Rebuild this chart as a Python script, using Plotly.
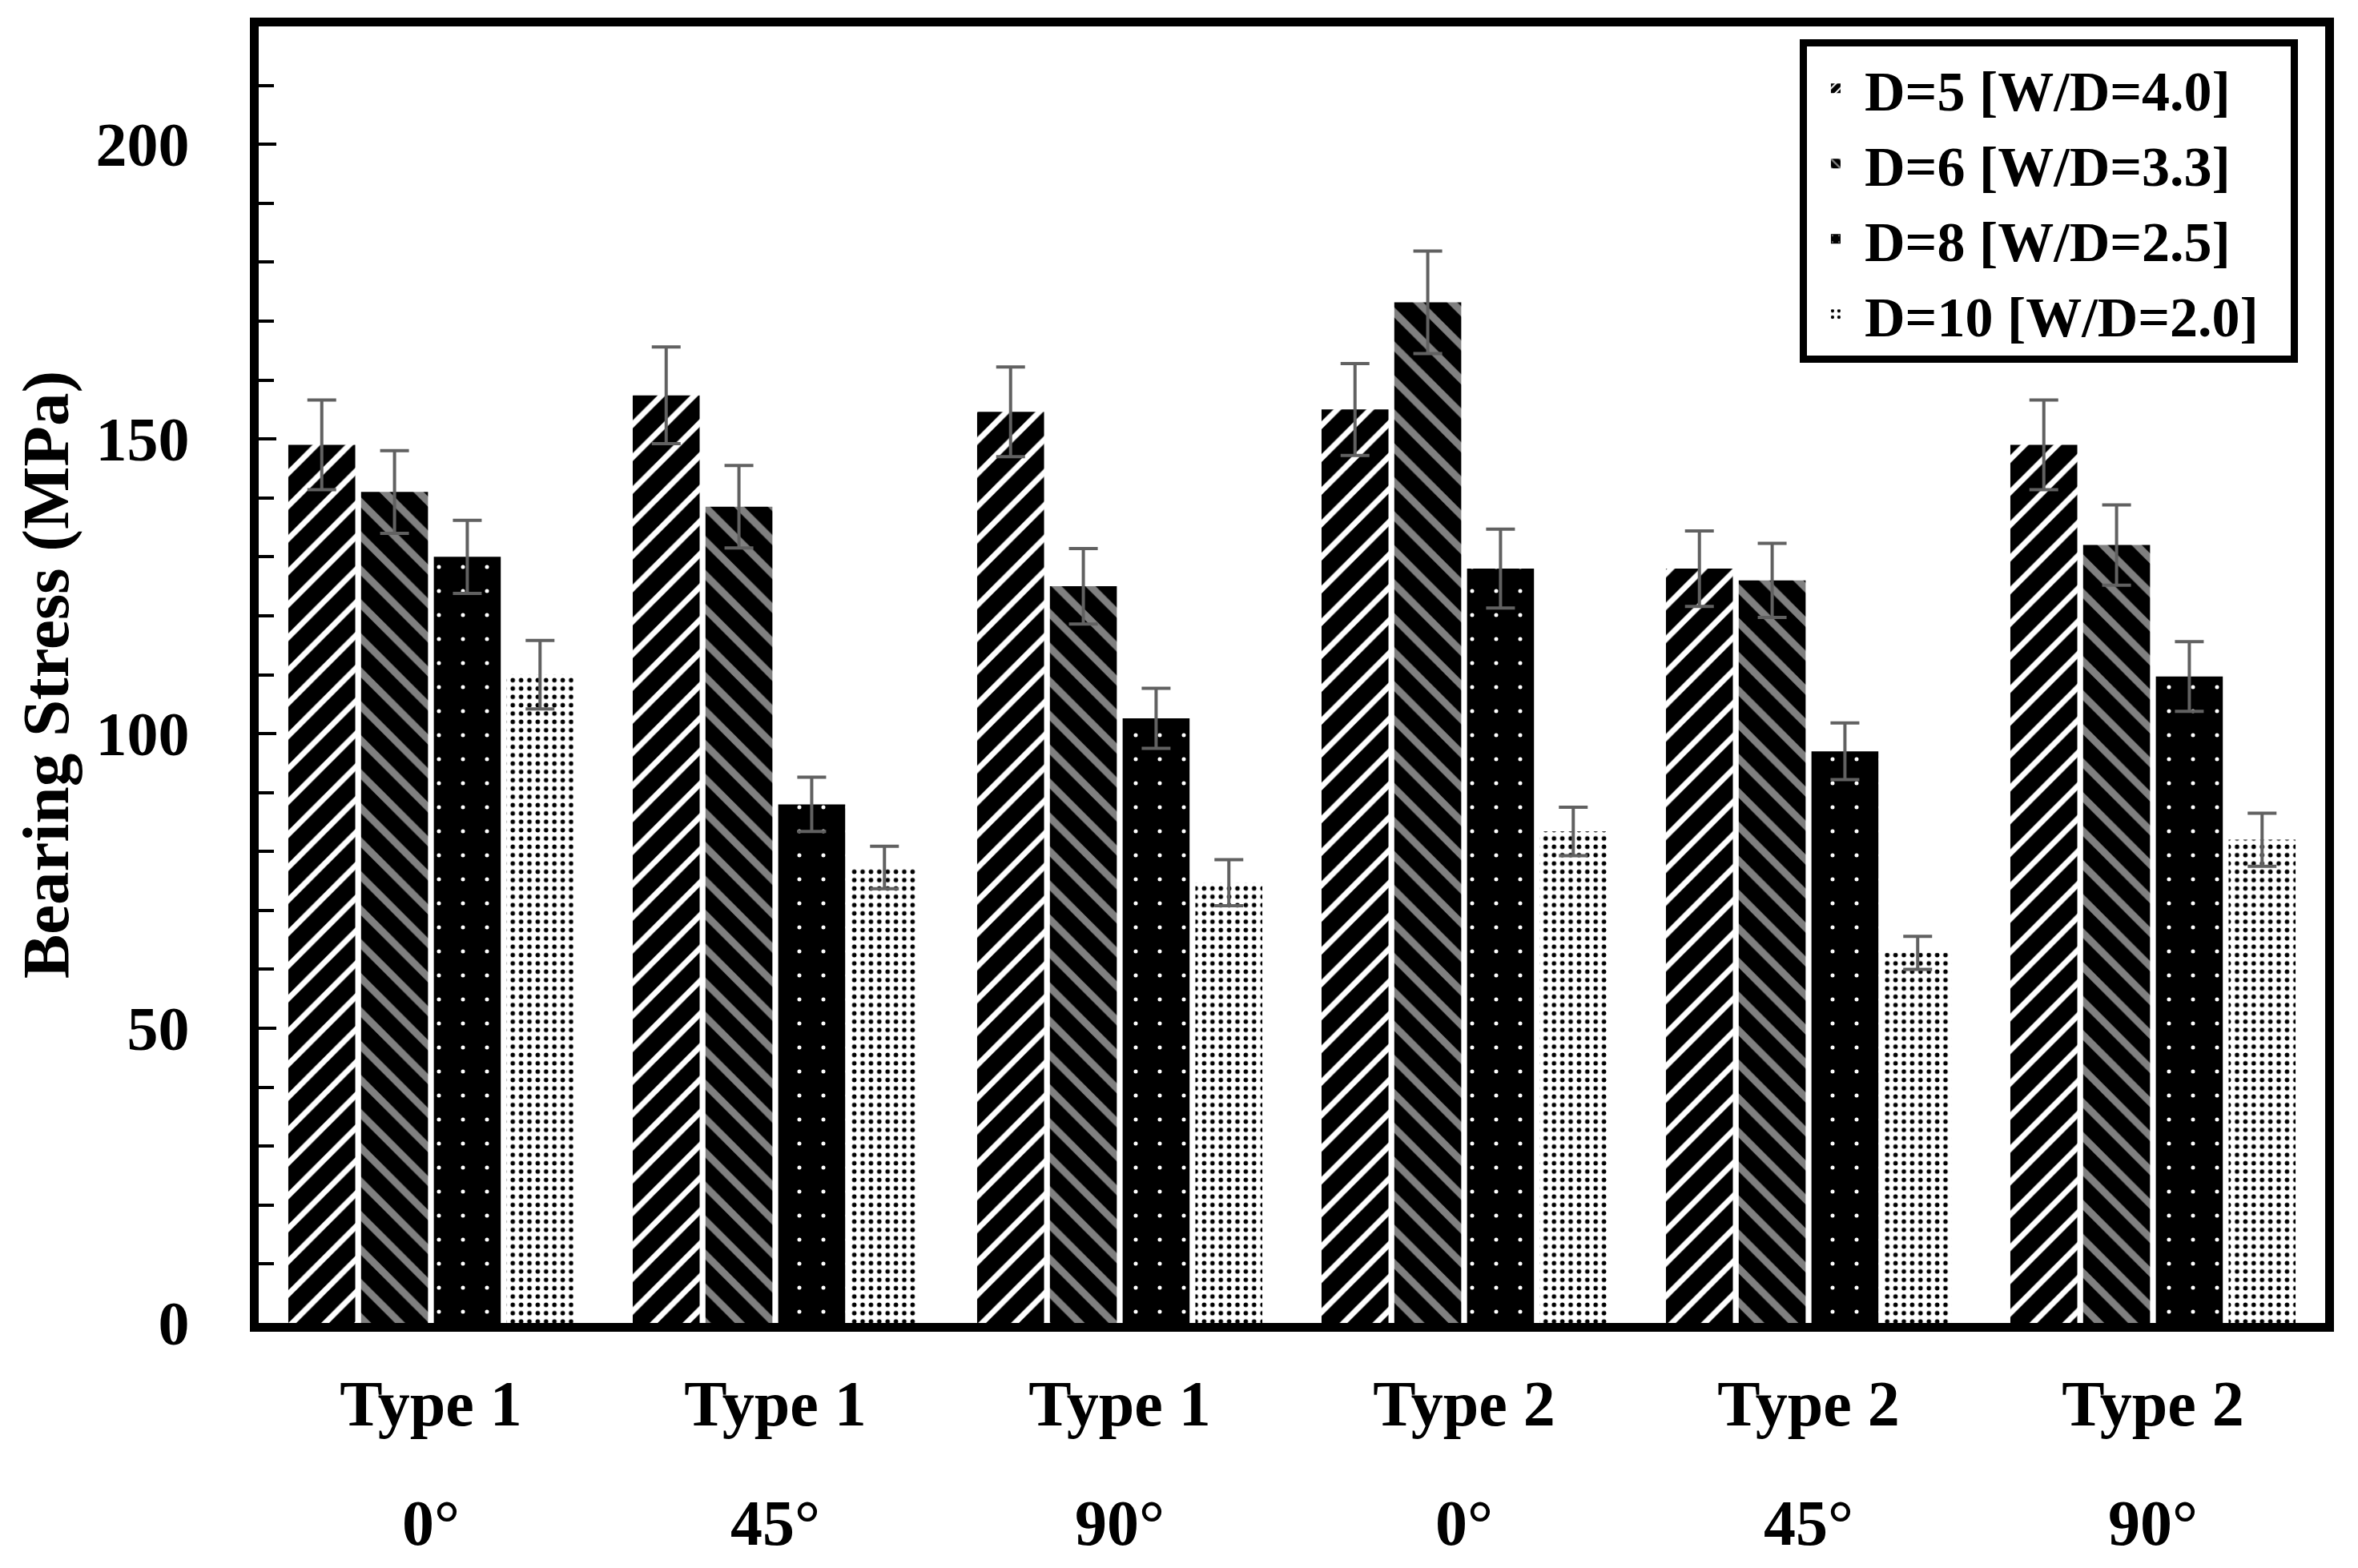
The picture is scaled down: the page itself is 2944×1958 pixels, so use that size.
import plotly.graph_objects as go

groups = ["Type 1", "Type 1", "Type 1", "Type 2", "Type 2", "Type 2"]
angles = ["0°", "45°", "90°", "0°", "45°", "90°"]
series_names = ["D=5 [W/D=4.0]", "D=6 [W/D=3.3]", "D=8 [W/D=2.5]", "D=10 [W/D=2.0]"]

d5 = [149.0, 157.4, 154.6, 155.0, 128.0, 149.0]
d6 = [141.0, 138.5, 125.0, 173.2, 126.0, 132.0]
d8 = [130.0, 88.0, 102.6, 128.0, 97.0, 109.7]
d10 = [110.0, 77.3, 74.7, 83.4, 62.8, 82.0]

e5 = [7.6, 8.2, 7.6, 7.8, 6.4, 7.6]
e6 = [7.0, 7.0, 6.4, 8.7, 6.3, 6.8]
e8 = [6.2, 4.6, 5.1, 6.7, 4.8, 5.9]
e10 = [5.8, 3.6, 3.9, 4.1, 2.8, 4.5]

values = [d5, d6, d8, d10]
errors = [e5, e6, e8, e10]

patterns = [
    dict(shape="/", fgcolor="black", bgcolor="white", size=29, solidity=0.76, fillmode="replace"),
    dict(shape="\\", fgcolor="#808080", bgcolor="black", size=30, solidity=0.3, fillmode="replace"),
    dict(shape=".", fgcolor="white", bgcolor="black", size=30, solidity=0.022, fillmode="replace"),
    dict(shape=".", fgcolor="black", bgcolor="white", size=10.4, solidity=0.23, fillmode="replace"),
]

FONT = "Liberation Serif"
NBSP = "\u00a0"
x_idx = list(range(len(groups)))

fig = go.Figure()
for name, vals, errs, pat in zip(series_names, values, errors, patterns):
    fig.add_trace(go.Bar(
        x=x_idx, y=vals, name=name + NBSP * 2,
        marker=dict(color=pat["bgcolor"], pattern=pat, line=dict(width=0)),
        error_y=dict(type="data", array=errs, visible=True, color="#616161", thickness=4, width=18),
    ))

for i, a in enumerate(angles):
    fig.add_annotation(x=i, xref="x", y=-0.1546, yref="paper", text=a, showarrow=False,
                       yanchor="middle", font=dict(family=FONT, size=80, color="black", weight="bold"))

fig.update_layout(
    width=2944, height=1958,
    margin=dict(l=323, r=41, t=33, b=306),
    paper_bgcolor="white", plot_bgcolor="white",
    barmode="group", bargap=0.155, bargroupgap=0.08,
    font=dict(family=FONT, color="black", weight="bold"),
    showlegend=True,
    legend=dict(x=0.9868, xanchor="right", y=0.990, yanchor="top",
                bordercolor="black", borderwidth=9, bgcolor="white",
                font=dict(family=FONT, size=70, color="black", weight="bold"),
                itemwidth=62, tracegroupgap=0),
)

fig.update_xaxes(
    range=[-0.5, 5.5], tickmode="array", tickvals=x_idx, ticktext=groups,
    tickfont=dict(family=FONT, size=80, color="black", weight="bold"),
    showline=True, linecolor="black", linewidth=11, mirror=True,
    ticks="", showgrid=False, zeroline=False, ticklabelstandoff=21,
)
fig.update_yaxes(
    range=[0, 220], tickmode="array", tickvals=[0, 50, 100, 150, 200],
    tickfont=dict(family=FONT, size=78, color="black", weight="bold"),
    showline=True, linecolor="black", linewidth=11, mirror=True,
    ticks="inside", ticklen=22, tickwidth=4, tickcolor="black",
    minor=dict(dtick=10, ticks="inside", ticklen=19, tickwidth=4, tickcolor="black", showgrid=False),
    showgrid=False, zeroline=False, ticklabelstandoff=60,
    title=dict(text="Bearing Stress (MPa)", standoff=11,
               font=dict(family=FONT, size=83, color="black", weight="bold")),
)

fig.write_html("out.html", config={"displayModeBar": False},
               post_script="document.body.style.margin='0px';")
